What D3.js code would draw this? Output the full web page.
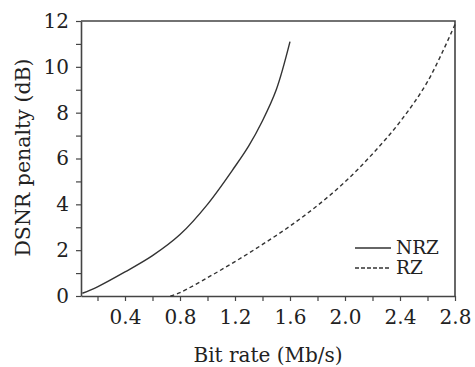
<!DOCTYPE html>
<html>
<head>
<meta charset="utf-8">
<script src="https://cdn.jsdelivr.net/npm/d3@7"></script>
<style>
  body { margin: 0; background: #fff; }
  svg text { font-family: "DejaVu Serif", serif; fill: #222; }
</style>
</head>
<body>
<script>
var width = 475, height = 367;

// data
var nrzRate    = [0.09, 0.2, 0.4, 0.6, 0.8, 1.0, 1.2, 1.3, 1.4, 1.5, 1.6];
var nrzPenalty = [0.12, 0.4, 1.05, 1.76, 2.68, 4.0, 5.65, 6.55, 7.65, 9.0, 11.1];
var rzRate     = [0.73, 0.8, 1.0, 1.2, 1.4, 1.6, 1.8, 2.0, 2.2, 2.4, 2.6, 2.8];
var rzPenalty  = [0, 0.15, 0.8, 1.5, 2.25, 3.05, 3.95, 4.98, 6.2, 7.6, 9.35, 11.85];
var xTicks = [0.4, 0.8, 1.2, 1.6, 2.0, 2.4, 2.8];
var yTicks = [0, 2, 4, 6, 8, 10, 12];
var seriesNames = ["NRZ", "RZ"];

var margin = {left: 81, right: 20, top: 21, bottom: 71};

var svg = d3.select("body").append("svg")
    .attr("width", width)
    .attr("height", height);

var x = d3.scaleLinear().domain([0.08, 2.8]).range([margin.left, width - margin.right]);
var y = d3.scaleLinear().domain([0, 12]).range([height - margin.bottom, margin.top]);

var axisColor = "#444";

// frame (top and right)
svg.append("path")
    .attr("d", "M" + x(0.08) + "," + y(12) + "H" + x(2.8) + "V" + y(0))
    .attr("fill", "none")
    .attr("stroke", axisColor)
    .attr("stroke-width", 1.6);

// x axis
var xAxis = svg.append("g")
    .attr("transform", "translate(0," + y(0) + ")")
    .call(d3.axisBottom(x).tickValues(d3.range(0.2, 2.81, 0.2)).tickSize(5).tickSizeOuter(0)
        .tickFormat(function (d) {
            var s = d.toFixed(1);
            return xTicks.indexOf(+s) >= 0 ? s : "";
        }));

// y axis
var yAxis = svg.append("g")
    .attr("transform", "translate(" + x(0.08) + ",0)")
    .call(d3.axisLeft(y).tickValues(d3.range(0, 12.1, 1)).tickSize(5).tickSizeOuter(0)
        .tickFormat(function (d) { return yTicks.indexOf(d) >= 0 ? d : ""; }));

[xAxis, yAxis].forEach(function (a) {
    a.select(".domain").attr("stroke", axisColor).attr("stroke-width", 1.6);
    a.selectAll(".tick line").attr("stroke", axisColor).attr("stroke-width", 1.2);
    a.selectAll(".tick text").attr("font-size", 20).attr("font-family", "DejaVu Serif").attr("fill", "#222");
});
xAxis.selectAll(".tick text").attr("dy", "1.0em");
yAxis.selectAll(".tick text").attr("x", -12);

// axis titles
svg.append("text")
    .attr("x", (x(0.08) + x(2.8)) / 2)
    .attr("y", 362)
    .attr("text-anchor", "middle")
    .attr("font-size", 20)
    .text("Bit rate (Mb/s)");

svg.append("text")
    .attr("transform", "translate(30," + (y(6) - 1) + ") rotate(-90)")
    .attr("text-anchor", "middle")
    .attr("font-size", 20.5)
    .text("DSNR penalty (dB)");

// curves
var line = d3.line()
    .x(function (d) { return x(d[0]); })
    .y(function (d) { return y(d[1]); })
    .curve(d3.curveCatmullRom);

var nrz = d3.zip(nrzRate, nrzPenalty);
var rz = d3.zip(rzRate, rzPenalty);

svg.append("path")
    .datum(nrz)
    .attr("d", line)
    .attr("fill", "none")
    .attr("stroke", "#333")
    .attr("stroke-width", 1.4);

svg.append("path")
    .datum(rz)
    .attr("d", line)
    .attr("fill", "none")
    .attr("stroke", "#333")
    .attr("stroke-width", 1.4)
    .attr("stroke-dasharray", "4,3");

// legend
var legend = svg.append("g");
seriesNames.forEach(function (name, i) {
    var ly = 248 + i * 20;
    legend.append("line")
        .attr("x1", 355).attr("x2", 391)
        .attr("y1", ly).attr("y2", ly)
        .attr("stroke", "#333")
        .attr("stroke-width", 1.3)
        .attr("stroke-dasharray", i == 1 ? "4,2" : null);
    legend.append("text")
        .attr("x", 396)
        .attr("y", ly)
        .attr("dy", "0.35em")
        .attr("font-size", 18.5)
        .text(name);
});
</script>
</body>
</html>
